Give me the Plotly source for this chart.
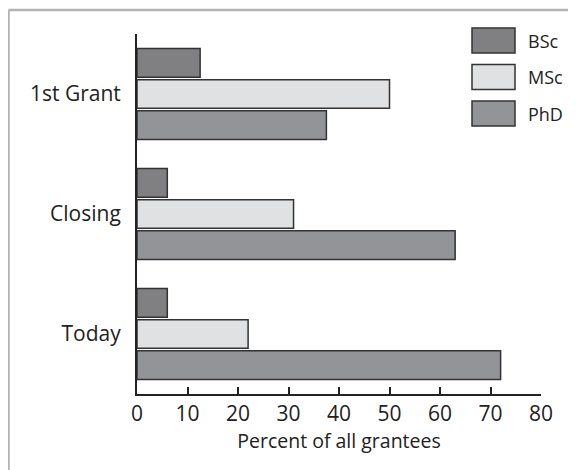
import plotly.graph_objects as go

categories = ["1st Grant", "Closing", "Today"]
bsc = [12.5, 6, 6]
msc = [50, 31, 22]
phd = [37.5, 63, 72]
series_names = ["BSc", "MSc", "PhD"]
series_values = [bsc, msc, phd]
colors = ["#808083", "#e0e1e3", "#939497"]
x_ticks = [0, 10, 20, 30, 40, 50, 60, 70, 80]

# page has an 8px body margin, so figure coords = screen coords - 8
OFF = 8
W, H = 568, 462
L, R, T, B = 129, 35, 26, 76
pw, ph = W - L - R, H - T - B

def px(x):  # screen x -> paper
    return (x - OFF - L) / pw

def py(y):  # screen y -> paper
    return (H - B - (y - OFF)) / ph

FONT = "Open Sans"
fig = go.Figure()
for name, vals, col in zip(series_names, series_values, colors):
    fig.add_trace(go.Bar(
        y=categories, x=vals, name=name, orientation="h",
        marker=dict(color=col, line=dict(color="#333333", width=1.5)),
        showlegend=False,
    ))

shapes = []
shapes.append(dict(type="line", xref="paper", yref="paper",
                   x0=px(8.5), x1=px(700), y0=py(10), y1=py(10),
                   line=dict(color="#b3b3b3", width=2.5)))
shapes.append(dict(type="line", xref="paper", yref="paper",
                   x0=px(8.5), x1=px(8.5), y0=py(10), y1=py(600),
                   line=dict(color="#b3b3b3", width=2.5)))

annotations = []
box_tops = [28, 64.5, 101]
for name, col, top in zip(series_names, colors, box_tops):
    shapes.append(dict(type="rect", xref="paper", yref="paper",
                       x0=px(472), x1=px(515), y0=py(top), y1=py(top + 25),
                       fillcolor=col, line=dict(color="#333333", width=1.5)))
    annotations.append(dict(xref="paper", yref="paper", x=px(526), y=py(top + 12.5),
                            text=name, showarrow=False, xanchor="left", yanchor="middle",
                            font=dict(family=FONT, size=18, color="#222222")))

fig.update_layout(
    width=W, height=H,
    margin=dict(l=L, r=R, t=T, b=B),
    paper_bgcolor="white", plot_bgcolor="white",
    barmode="group", bargap=0.22, bargroupgap=0.08,
    font=dict(family=FONT, size=16, color="#222222"),
    shapes=shapes, annotations=annotations,
    xaxis=dict(range=[0, 80], tickvals=x_ticks, ticks="inside", ticklen=7,
               tickwidth=2, tickcolor="#222222", showline=True, linewidth=2,
               linecolor="#222222", showgrid=False, zeroline=False,
               tickfont=dict(size=21), ticklabelstandoff=0,
               title=dict(text="Percent of all grantees", font=dict(size=19.5), standoff=7)),
    yaxis=dict(range=[2.5, -0.5], showline=True, linewidth=2, linecolor="#222222",
               showgrid=False, zeroline=False, ticks="", ticklabelstandoff=10,
               tickfont=dict(size=21)),
)

fig.write_html("out.html")
